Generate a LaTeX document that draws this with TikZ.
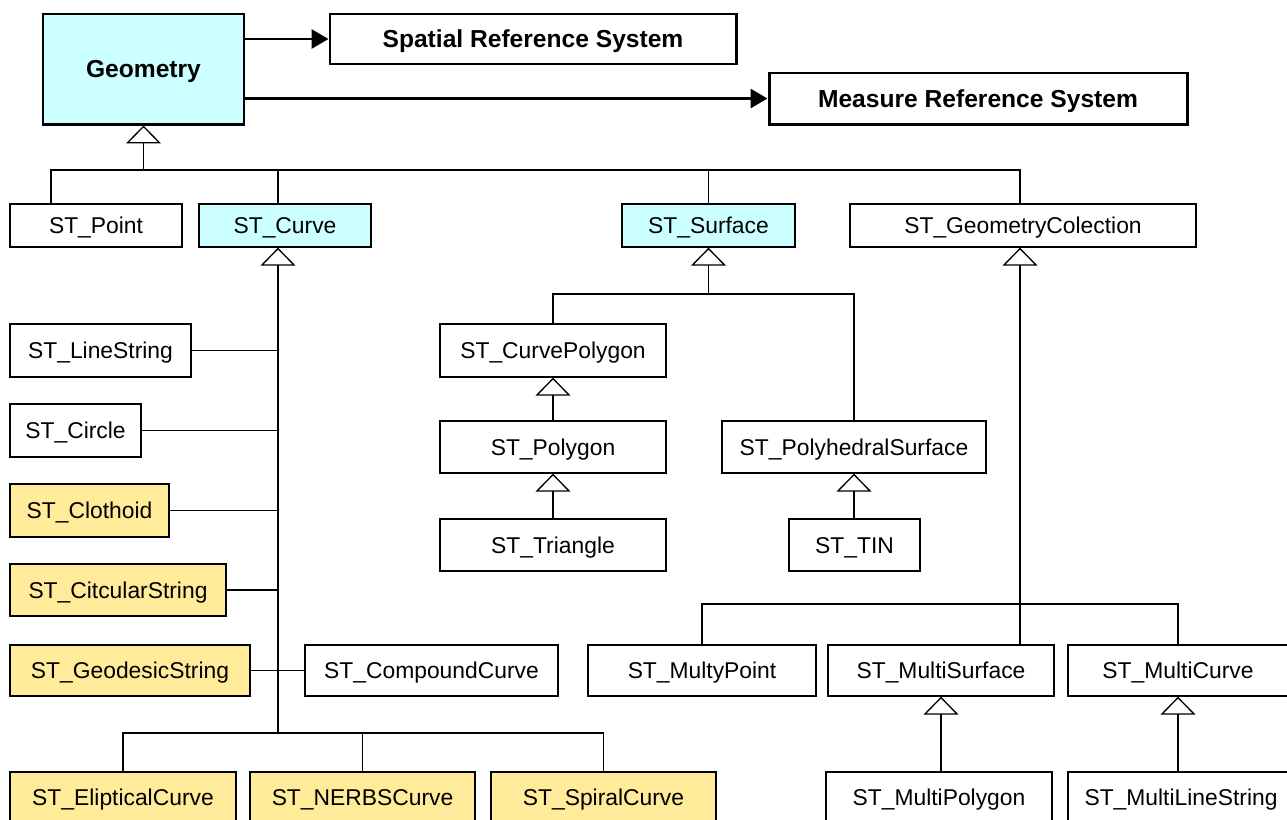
\documentclass[tikz,border=0pt]{standalone}
\usepackage{fontspec}
\setmainfont{Liberation Sans}
\usetikzlibrary{arrows.meta}

\definecolor{geocyan}{HTML}{CCFFFF}
\definecolor{newyellow}{HTML}{FFEB99}

\tikzset{
    cls/.style={draw, line width=0.75pt, inner sep=0pt, text height=9.3pt, text depth=0pt, font=\fontsize{13}{15}\selectfont},
    bigcls/.style={draw, line width=1.7pt, inner sep=0pt, text height=10pt, text depth=0pt, font=\bfseries\fontsize{14}{16}\selectfont},
    wh/.style 2 args={minimum width=#1*0.02cm, minimum height=#2*0.02cm},
    cyanbox/.style={fill=geocyan},
    newbox/.style={fill=newyellow},
    inh/.style={line width=0.75pt, -{Triangle[open, length=0.36cm, width=0.70cm, line width=0.75pt]}},
    assoc/.style={line width=1.7pt, -{Triangle[length=0.34cm, width=0.38cm]}},
    bus/.style={line width=0.75pt}
}

\begin{document}
\begin{tikzpicture}[x=0.02cm, y=-0.02cm]
    \useasboundingbox (0,0) rectangle (1287,819);

    % top level
    \node[bigcls, cyanbox, wh={201}{110}] (geom) at (143.5,69) {Geometry};
    \node[bigcls, wh={406}{50}] (srs) at (533,39) {Spatial Reference System};
    \node[bigcls, wh={418}{51}] (mrs) at (978,98.5) {Measure Reference System};

    \draw[assoc] (geom.east |- srs) -- (srs.west);
    \draw[assoc] (geom.east |- mrs) -- (mrs.west);

    % second level
    \node[cls, wh={172}{43}] (point) at (96,225.5) {ST\_Point};
    \node[cls, cyanbox, wh={172}{43}] (curve) at (285,225.5) {ST\_Curve};
    \node[cls, cyanbox, wh={173}{43}] (surface) at (708.5,225.5) {ST\_Surface};
    \node[cls, wh={346}{43}] (gcoll) at (1023,225.5) {ST\_GeometryColection};

    \coordinate (b1) at (51,170);
    \coordinate (b2) at (1020,170);
    \coordinate (cx) at (278,0);
    \draw[bus] (point.north -| b1) -- (b1) -- (b2) -- (gcoll.north -| b2);
    \draw[bus] (curve.north -| cx) -- (cx |- b1);
    \draw[bus] (surface.north) -- (surface.north |- b1);
    \draw[inh] (geom.south |- b1) -- (geom.south);

    % curves
    \node[cls, wh={181}{53}] (linestr) at (100.5,350.5) {ST\_LineString};
    \node[cls, wh={131}{53}] (circle) at (75.5,430.5) {ST\_Circle};
    \node[cls, newbox, wh={159}{53}] (clothoid) at (89.5,510.5) {ST\_Clothoid};
    \node[cls, newbox, wh={216}{52}] (circstr) at (118,590) {ST\_CitcularString};
    \node[cls, newbox, wh={240}{51}] (geodstr) at (130,670.5) {ST\_GeodesicString};
    \node[cls, wh={253}{51}] (compound) at (431.5,670.5) {ST\_CompoundCurve};
    \node[cls, newbox, wh={226}{50}] (elliptic) at (123,797) {ST\_ElipticalCurve};
    \node[cls, newbox, wh={225}{50}] (nerbs) at (362.5,797) {ST\_NERBSCurve};
    \node[cls, newbox, wh={225}{50}] (spiral) at (603.5,797) {ST\_SpiralCurve};

    \coordinate (cbus) at (278,733);
    \draw[inh] (cbus) -- (curve.south -| cx);
    \draw[bus] (linestr.east) -- (linestr.east -| cx);
    \draw[bus] (circle.east) -- (circle.east -| cx);
    \draw[bus] (clothoid.east) -- (clothoid.east -| cx);
    \draw[bus] (circstr.east) -- (circstr.east -| cx);
    \draw[bus] (geodstr.east) -- (compound.west);
    \draw[bus] (elliptic.north) |- (spiral.north |- cbus) -- (spiral.north);
    \draw[bus] (nerbs.north) -- (nerbs.north |- cbus);

    % surfaces
    \node[cls, wh={226}{53}] (curvepoly) at (553,350.5) {ST\_CurvePolygon};
    \node[cls, wh={226}{52}] (polygon) at (553,447) {ST\_Polygon};
    \node[cls, wh={226}{52}] (triangle) at (553,545) {ST\_Triangle};
    \node[cls, wh={264}{52}] (polyhed) at (854,447) {ST\_PolyhedralSurface};
    \node[cls, wh={131}{52}] (tin) at (854.5,545) {ST\_TIN};

    \coordinate (sbus) at (708,294);
    \draw[inh] (surface.south |- sbus) -- (surface.south);
    \draw[bus] (curvepoly.north) |- (polyhed.north |- sbus) -- (polyhed.north);
    \draw[inh] (polygon.north) -- (curvepoly.south);
    \draw[inh] (triangle.north) -- (polygon.south);
    \draw[inh] (polyhed.south |- tin.north) -- (polyhed.south);

    % collections
    \node[cls, wh={228}{51}] (multypoint) at (702,670.5) {ST\_MultyPoint};
    \node[cls, wh={226}{51}] (multisurf) at (941,670.5) {ST\_MultiSurface};
    \node[cls, wh={220}{51}] (multicurve) at (1178,670.5) {ST\_MultiCurve};
    \node[cls, wh={226}{50}] (multipoly) at (939,797) {ST\_MultiPolygon};
    \node[cls, wh={226}{50}] (multiline) at (1181,797) {ST\_MultiLineString};

    \coordinate (gbus) at (1020,604);
    \draw[inh] (multisurf.north -| gbus) -- (gcoll.south -| gbus);
    \draw[bus] (multypoint.north) |- (multicurve.north |- gbus) -- (multicurve.north);
    \draw[inh] (multisurf.south |- multipoly.north) -- (multisurf.south);
    \draw[inh] (multicurve.south |- multiline.north) -- (multicurve.south);
\end{tikzpicture}
\end{document}
